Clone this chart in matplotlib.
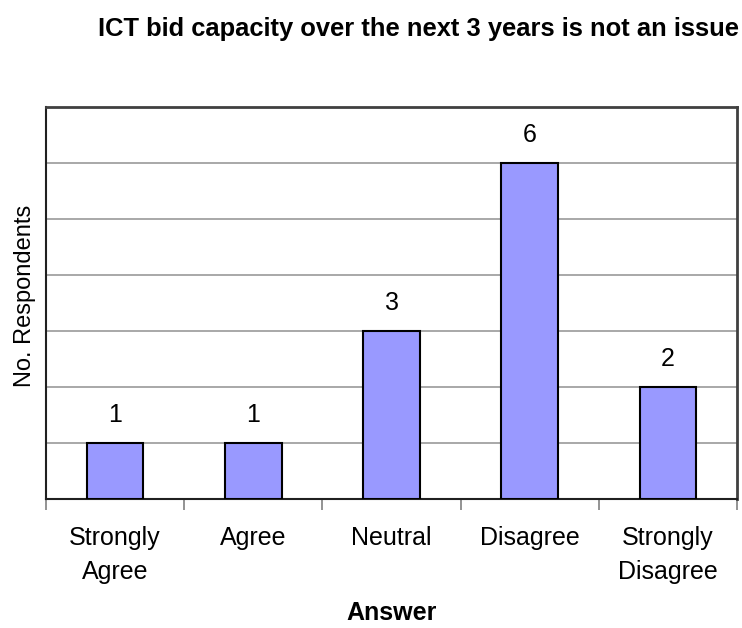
import numpy as np
import matplotlib.pyplot as plt
from matplotlib.transforms import blended_transform_factory

plt.rcParams['font.family'] = ['Liberation Sans', 'DejaVu Sans']

# Survey responses
CATEGORIES = ['Strongly\nAgree', 'Agree', 'Neutral', 'Disagree', 'Strongly\nDisagree']
COUNTS = [1, 1, 3, 6, 2]

TITLE = 'ICT bid capacity over the next 3 years is not an issue'
BAR_COLOR = '#9999ff'
FRAME_COLOR = '#404040'
W, H = 742, 628

fig = plt.figure(figsize=(W / 100, H / 100), dpi=100)
ax = fig.add_axes([46 / W, 1 - 499 / H, (737 - 46) / W, (499 - 107) / H])

x = np.arange(len(COUNTS))
ax.bar(x, COUNTS, width=0.41, color=BAR_COLOR, edgecolor='black', linewidth=1.5, zorder=3)

# value labels above each bar
for xi, v in zip(x, COUNTS):
    ax.text(xi, v + 0.375, str(v), ha='center', va='baseline', fontsize=18)

ax.set_xlim(-0.5, len(COUNTS) - 0.5)
ax.set_ylim(0, 7)
ax.set_yticks(range(1, 7))
ax.set_yticklabels([])
ax.tick_params(axis='y', length=0)
ax.yaxis.grid(True, color='#999999', linewidth=1.2, zorder=0)

# boundary ticks, category names centred between them
ax.set_xticks(np.arange(len(COUNTS) + 1) - 0.5)
ax.set_xticklabels([])
ax.tick_params(axis='x', direction='out', length=8, width=1.2, color='#808080')
trans = blended_transform_factory(ax.transData, ax.transAxes)
axes_h = 499 - 107
for xi, lab in zip(x, CATEGORIES):
    for i, line in enumerate(lab.split('\n')):
        ax.text(xi, -(46 + 34 * i) / axes_h, line, ha='center', va='baseline',
                fontsize=18, transform=trans)

for side in ['top', 'right']:
    ax.spines[side].set_color(FRAME_COLOR)
    ax.spines[side].set_linewidth(2)
for side in ['left', 'bottom']:
    ax.spines[side].set_color('#202020')
    ax.spines[side].set_linewidth(1.5)

fig.text(418 / W, 1 - 36 / H, TITLE, ha='center', va='baseline', fontsize=18.4, fontweight='bold')
fig.text(25 / W, 1 - 296 / H, 'No. Respondents', ha='center', va='center',
         rotation=90, fontsize=17)
fig.text(392 / W, 1 - 620 / H, 'Answer', ha='center', va='baseline',
         fontsize=18, fontweight='bold')

plt.savefig('out.png', dpi=100)
